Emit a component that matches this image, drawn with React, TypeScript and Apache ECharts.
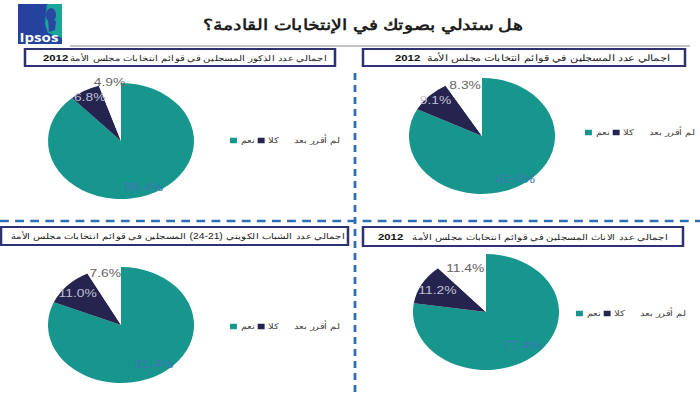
import React, { useEffect, useRef } from "react";
import * as echarts from "echarts";

// ---- data ----
const answerNames = ["نعم", "كلا", "لم أقرر بعد"];
const allVotes = [82.6, 9.1, 8.3];
const maleVotes = [88.4, 6.8, 4.9];
const youthVotes = [81.4, 11.0, 7.6];
const femaleVotes = [77.4, 11.2, 11.4];

const mainTitle = "هل ستدلي بصوتك في الإنتخابات القادمة؟";
const panelTitles = [
  "اجمالي عدد المسجلين في قوائم انتخابات مجلس الأمة",
  "اجمالي عدد الذكور المسجلين في قوائم انتخابات مجلس الأمة",
  "اجمالي عدد الشباب الكويتي (21-24) المسجلين في قوائم انتخابات مجلس الأمة",
  "اجمالي عدد الاناث المسجلين في قوائم انتخابات مجلس الأمة",
];
const yearLabel = "2012";

// ---- styles ----
const W = 556;
const H = 394;
const S = 700 / W;
const X = (v: number) => v / S;

const TEAL = "#16968c";
const NAVY = "#25244f";
const WHITE = "#ffffff";
const sliceColors = [TEAL, NAVY, WHITE];
const labelColors = ["#3c78b4", "#bfbfd0", "#666666"];
const FONT = "Liberation Sans";

type Panel = {
  values: number[];
  center: [number, number];
  labelRA: number; // radius whose midpoint carries the teal / navy labels
  labelRB: number; // radius whose midpoint carries the white-slice label
  legendLeft: number;
  legendTop: number;
};

const panels: Panel[] = [
  { values: allVotes, center: [X(482), 136], labelRA: 96, labelRB: 98, legendLeft: X(585), legendTop: 128.5 },
  { values: maleVotes, center: [X(121), 141], labelRA: 94, labelRB: 113, legendLeft: X(230), legendTop: 136.5 },
  { values: youthVotes, center: [X(121), 325], labelRA: 88, labelRB: 100, legendLeft: X(230), legendTop: 322.5 },
  { values: femaleVotes, center: [X(486), 312], labelRA: 82, labelRB: 88, legendLeft: X(576), legendTop: 309.5 },
];

function labelPie(p: Panel, radius: number, shown: number[]) {
  return {
    type: "pie",
    center: p.center,
    radius,
    startAngle: 90,
    clockwise: true,
    silent: true,
    avoidLabelOverlap: false,
    minShowLabelAngle: 0,
    legendHoverLink: false,
    itemStyle: { color: "rgba(0,0,0,0)", borderWidth: 0 },
    labelLine: { show: false },
    label: {
      show: true,
      position: "inside",
      fontFamily: "Liberation Sans",
      fontSize: 11,
      formatter: (prm: any) => prm.value.toFixed(1) + "%",
    },
    data: p.values.map((v, i) => ({
      name: answerNames[i],
      value: v,
      label: { show: shown.includes(i), color: labelColors[i] },
    })),
  };
}

function buildOption() {
  const series: any[] = [];
  panels.forEach((p) => {
    series.push({
      type: "pie",
      center: p.center,
      radius: 58,
      startAngle: 90,
      clockwise: true,
      silent: true,
      label: { show: false },
      labelLine: { show: false },
      itemStyle: { borderWidth: 0 },
      data: p.values.map((v, i) => ({
        name: answerNames[i],
        value: v,
        itemStyle: { color: sliceColors[i] },
      })),
    });
    series.push(labelPie(p, p.labelRA, [0, 1]));
    series.push(labelPie(p, p.labelRB, [2]));
  });

  const legends = panels.map((p) => ({
    left: p.legendLeft,
    top: p.legendTop,
    width: 150,
    padding: 0,
    orient: "horizontal",
    align: "left",
    itemWidth: 5.5,
    itemHeight: 5.5,
    itemGap: 2.5,
    icon: "rect",
    selectedMode: false,
    data: answerNames.map((n, i) => ({
      name: n,
      itemStyle: { color: sliceColors[i] },
    })),
    textStyle: { fontFamily: FONT, fontSize: 8, color: "#444", padding: [0, 0, 0, -2] },
  }));

  // title boxes: box edges, where "2012" starts, where the Arabic text ends
  const boxes = [
    { x0: 363, x1: 685, y: 49, h: 17, t: panelTitles[0], yearX: 395, textR: 670, fs: 8.8 },
    { x0: 25, x1: 335, y: 49, h: 17, t: panelTitles[1], yearX: 43, textR: 327, fs: 8.0 },
    { x0: 1, x1: 348, y: 227, h: 18, t: panelTitles[2], yearX: null, textR: 345, fs: 8.2 },
    { x0: 363, x1: 683, y: 227, h: 19, t: panelTitles[3], yearX: 378, textR: 668, fs: 8.3 },
  ];

  const graphic: any[] = [];

  // dashed separators
  graphic.push({
    type: "line",
    shape: { x1: 0, y1: 221, x2: W, y2: 221 },
    style: { stroke: "#2f6fb8", lineWidth: 2.5, lineDash: [7, 5] },
    silent: true,
  });
  graphic.push({
    type: "line",
    shape: { x1: X(355), y1: 73, x2: X(355), y2: H },
    style: { stroke: "#2f6fb8", lineWidth: 2.2, lineDash: [7, 5] },
    silent: true,
  });

  // gray rule under the title
  graphic.push({
    type: "line",
    shape: { x1: X(70), y1: 46, x2: X(690), y2: 46 },
    style: { stroke: "#b0b0b0", lineWidth: 1.5 },
    silent: true,
  });

  // title
  graphic.push({
    type: "text",
    x: X(363),
    y: 25,
    style: {
      text: `{t|${mainTitle}}`,
      align: "center",
      verticalAlign: "middle",
      rich: {
        t: { fontFamily: FONT, fontSize: 15, fontWeight: "bold", fill: "#1e1e1e" },
      },
    },
    silent: true,
  });

  // logo
  graphic.push({
    type: "rect",
    shape: { x: X(18), y: 4, width: X(62) - X(18), height: 40 },
    style: {
      fill: new echarts.graphic.LinearGradient(0, 0, 1, 0, [
        { offset: 0, color: "#2a3f9e" },
        { offset: 1, color: "#1d4aa3" },
      ]),
    },
    silent: true,
  });
  graphic.push({
    type: "polygon",
    shape: {
      points: [
        [X(47), 4], [X(62), 4], [X(62), 38], [X(48), 33], [X(45), 24], [X(46), 12],
      ],
    },
    style: { fill: "#1aa59b" },
    silent: true,
  });
  graphic.push({
    type: "ellipse",
    shape: { cx: X(51), cy: 15, rx: X(5), ry: 7 },
    style: { fill: "#2a46a0" },
    silent: true,
  });
  graphic.push({
    type: "polygon",
    shape: { points: [[X(48), 19], [X(56), 21], [X(55), 30], [X(49), 32]] },
    style: { fill: "#2a46a0" },
    silent: true,
  });
  graphic.push({
    type: "text",
    x: X(39),
    y: 37,
    style: {
      text: "Ipsos",
      fontFamily: "Open Sans",
      fontSize: 12,
      fontWeight: "bold",
      fill: "#ffffff",
      align: "center",
      verticalAlign: "middle",
    },
    silent: true,
  });

  // panel title boxes
  boxes.forEach((b) => {
    const bx = X(b.x0);
    const bw = X(b.x1) - X(b.x0);
    const cy = b.y + b.h / 2 + 0.5;
    graphic.push({
      type: "rect",
      shape: { x: bx, y: b.y, width: bw, height: b.h },
      style: { fill: "#fff", stroke: "#2e3272", lineWidth: 2 },
      silent: true,
    });
    graphic.push({
      type: "text",
      x: X(b.textR),
      y: cy,
      style: {
        text: b.t,
        fontFamily: FONT,
        fontSize: b.fs,
        fill: "#222",
        align: "right",
        verticalAlign: "middle",
      },
      silent: true,
    });
    if (b.yearX !== null) {
      graphic.push({
        type: "text",
        x: X(b.yearX),
        y: cy,
        style: {
          text: yearLabel,
          fontFamily: "Liberation Sans",
          fontSize: 9,
          fontWeight: "bold",
          fill: "#111",
          align: "left",
          verticalAlign: "middle",
        },
        silent: true,
      });
    }
  });

  return {
    animation: false,
    backgroundColor: "#ffffff",
    legend: legends,
    series,
    graphic,
  };
}

export default function App() {
  const ref = useRef<HTMLDivElement>(null);
  useEffect(() => {
    if (!ref.current) return;
    const chart = echarts.init(ref.current, undefined, { renderer: "svg" });
    chart.setOption(buildOption() as any);
    return () => chart.dispose();
  }, []);
  return (
    <div
      ref={ref}
      style={{
        position: "absolute",
        left: 0,
        top: 0,
        width: W,
        height: H,
        transform: `scaleX(${S})`,
        transformOrigin: "0 0",
        background: "#fff",
      }}
    />
  );
}
